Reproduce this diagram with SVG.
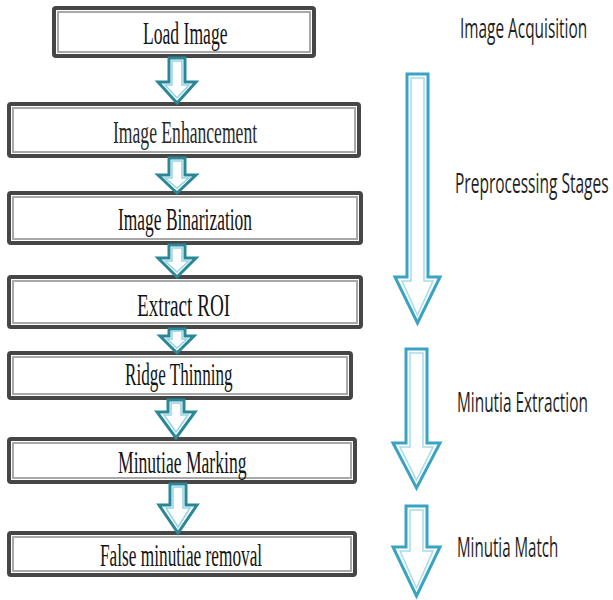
<svg xmlns="http://www.w3.org/2000/svg" width="613" height="600" viewBox="0 0 613 600">
  <style>
    .box-outer { fill: #ffffff; stroke: #464646; stroke-width: 4; }
    .box-inner { fill: #ffffff; stroke: #a8a8a8; stroke-width: 2; }
    .box-text { font-family: "Liberation Serif", "Times New Roman", serif; font-size: 32px; fill: #141414; }
    .stage-text { font-family: "Open Sans", "Noto Sans", sans-serif; font-size: 27px; fill: #1e1e1e; }
    .step-out { fill: #ffffff; stroke: #2a8797; stroke-width: 3; stroke-linejoin: miter; }
    .step-in { fill: #ffffff; stroke: #93d4e2; stroke-width: 1.5; }
    .stage-out { fill: #ffffff; stroke: #3aa3c3; stroke-width: 3; stroke-linejoin: miter; }
    .stage-in { fill: #ffffff; stroke: #a6dcea; stroke-width: 1.5; }
  </style>

  <rect width="613" height="600" fill="#ffffff"/>

  <!-- process step boxes -->
  <g id="load-image">
    <rect class="box-outer" x="54" y="8" width="260" height="48" rx="2"/>
    <rect class="box-inner" x="58" y="12" width="252" height="40"/>
    <text class="box-text" transform="translate(143,44) scale(0.55,1)">Load Image</text>
  </g>
  <g id="image-enhancement">
    <rect class="box-outer" x="9" y="104" width="350" height="52" rx="2"/>
    <rect class="box-inner" x="13" y="108" width="342" height="44"/>
    <text class="box-text" transform="translate(113,143) scale(0.55,1)" style="fill:#2a2a2a">Image Enhancement</text>
  </g>
  <g id="image-binarization">
    <rect class="box-outer" x="9" y="193" width="352" height="50" rx="2"/>
    <rect class="box-inner" x="13" y="197" width="344" height="42"/>
    <text class="box-text" transform="translate(118,230) scale(0.545,1)">Image Binarization</text>
  </g>
  <g id="extract-roi">
    <rect class="box-outer" x="9" y="277" width="352" height="50" rx="2"/>
    <rect class="box-inner" x="13" y="281" width="344" height="42"/>
    <text class="box-text" transform="translate(137,316) scale(0.6,1)">Extract ROI</text>
  </g>
  <g id="ridge-thinning">
    <rect class="box-outer" x="9" y="353" width="342" height="45" rx="2"/>
    <rect class="box-inner" x="13" y="357" width="334" height="37"/>
    <text class="box-text" transform="translate(125,385) scale(0.535,1)">Ridge Thinning</text>
  </g>
  <g id="minutiae-marking">
    <rect class="box-outer" x="9" y="439" width="346" height="43" rx="2"/>
    <rect class="box-inner" x="13" y="443" width="338" height="35"/>
    <text class="box-text" transform="translate(118,473) scale(0.55,1)">Minutiae Marking</text>
  </g>
  <g id="false-minutiae-removal">
    <rect class="box-outer" x="9" y="533" width="346" height="42" rx="2"/>
    <rect class="box-inner" x="13" y="537" width="338" height="34"/>
    <text class="box-text" transform="translate(100,566) scale(0.54,1)">False minutiae removal</text>
  </g>

  <!-- stage labels -->
  <g id="stage-labels">
    <text class="stage-text" transform="translate(460,38) scale(0.57,1)">Image Acquisition</text>
    <text class="stage-text" transform="translate(455,193) scale(0.575,1)">Preprocessing Stages</text>
    <text class="stage-text" transform="translate(457,412) scale(0.57,1)">Minutia Extraction</text>
    <text class="stage-text" transform="translate(457,557) scale(0.56,1)">Minutia Match</text>
  </g>

  <!-- connectors: hollow block arrows -->
  <g id="connectors">
    <!-- between steps -->
    <polygon class="step-out" points="169,58 185,58 185,82 196,82 177,103 158,82 169,82"/>
    <polygon class="step-in" points="172,61 182,61 182,85 189,85 177,98 165,85 172,85"/>

    <polygon class="step-out" points="169,158 185,158 185,175 196,175 177,193 158,175 169,175"/>
    <polygon class="step-in" points="172,161 182,161 182,178 189,178 177,188 165,178 172,178"/>

    <polygon class="step-out" points="169,245 185,245 185,258 196,258 177,277 158,258 169,258"/>
    <polygon class="step-in" points="172,248 182,248 182,261 189,261 177,272 165,261 172,261"/>

    <polygon class="step-out" points="169,329 185,329 185,336 194,336 177,353 160,336 169,336"/>
    <polygon class="step-in" points="172,331 182,331 182,339 187,339 177,348 167,339 172,339"/>

    <polygon class="step-out" points="168,400 184,400 184,412 195,412 176,438 157,412 168,412"/>
    <polygon class="step-in" points="171,403 181,403 181,415 188,415 176,432 164,415 171,415"/>

    <polygon class="step-out" points="170,484 186,484 186,505 197,505 178,533 159,505 170,505"/>
    <polygon class="step-in" points="173,487 183,487 183,508 190,508 178,527 166,508 173,508"/>

    <!-- stage spans -->
    <polygon class="stage-out" points="407,74 428,74 428,277 440,277 417.5,323 395,277 407,277"/>
    <polygon class="stage-in" points="411,78 424,78 424,281 433,281 417.5,315 402,281 411,281"/>

    <polygon class="stage-out" points="406,349 427,349 427,443 440,443 416.5,488 393,443 406,443"/>
    <polygon class="stage-in" points="410,353 423,353 423,447 433,447 416.5,480 400,447 410,447"/>

    <polygon class="stage-out" points="406,506 427,506 427,547 440,547 416.5,596 393,547 406,547"/>
    <polygon class="stage-in" points="410,510 423,510 423,551 433,551 416.5,588 400,551 410,551"/>
  </g>
</svg>
